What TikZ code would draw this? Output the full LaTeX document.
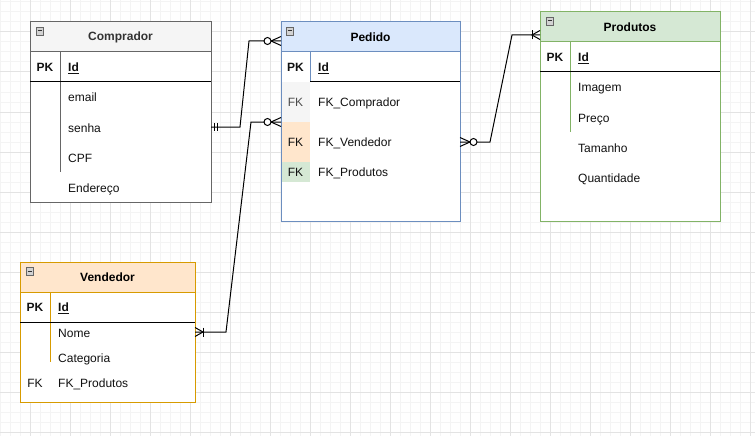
\documentclass[tikz,border=0pt]{standalone}
\usepackage{fontspec}
\setmainfont{Liberation Sans}
\definecolor{grayF}{HTML}{F5F5F5}\definecolor{grayS}{HTML}{666666}
\definecolor{blueF}{HTML}{DAE8FC}\definecolor{blueS}{HTML}{6C8EBF}
\definecolor{greenF}{HTML}{D5E8D4}\definecolor{greenS}{HTML}{82B366}
\definecolor{orangeF}{HTML}{FFE6CC}\definecolor{orangeS}{HTML}{D79B00}
\definecolor{gridmin}{HTML}{F4F4F4}\definecolor{gridmaj}{HTML}{E3E3E3}
\definecolor{txt}{HTML}{111111}
\tikzset{
  box/.style={rectangle, inner sep=0pt, outer sep=0pt, line width=1pt, anchor=north west},
  title/.style={box, font=\fontsize{12}{14}\selectfont\bfseries},
  fld/.style={anchor=base west, inner sep=0pt, font=\fontsize{12}{14}\selectfont, text=txt},
  pk/.style={anchor=base, inner sep=0pt, font=\fontsize{12}{14}\selectfont\bfseries, text=txt},
  fk/.style={anchor=base, inner sep=0pt, font=\fontsize{12}{14}\selectfont, text=txt},
  conn/.style={line width=1pt, black},
  icon/.pic={\draw[line width=0.6pt, draw=gray!80!black, fill=gray!35] (0,0) rectangle (7,8);
             \draw[line width=1pt, black!80] (1.5,4) -- (5.5,4);},
  zmany/.pic={\draw[line width=1pt] (0,-4.5) -- (10,0) -- (0,4.5);
              \draw[line width=1pt, fill=white] (13.5,0) circle (3.5pt);},
  omany/.pic={\draw[line width=1pt] (0,-4.5) -- (8,0) -- (0,4.5);
              \draw[line width=1pt] (8,-4.5) -- (8,4.5);},
  mone/.pic={\draw[line width=1pt] (3.5,-4) -- (3.5,4);
             \draw[line width=1pt] (6.5,-4) -- (6.5,4);}
}
\begin{document}
\begin{tikzpicture}[x=1pt,y=-1pt]
\useasboundingbox (0,0) rectangle (755,436);
\fill[white] (0,0) rectangle (755,436);
% grid
\foreach \x in {0,10,...,750} \draw[gridmin, line width=1pt] (\x,0) -- (\x,436);
\foreach \y in {2,12,...,432} \draw[gridmin, line width=1pt] (0,\y) -- (755,\y);
\foreach \x in {30,70,...,750} \draw[gridmaj, line width=1pt] (\x,0) -- (\x,436);
\foreach \y in {32,72,...,432} \draw[gridmaj, line width=1pt] (0,\y) -- (755,\y);

% ---------- Comprador ----------
\node[box, draw=grayS, fill=white, minimum width=181pt, minimum height=150pt] (comp) at (30,52) {};
\node[title, draw=grayS, fill=grayF, minimum width=181pt, minimum height=30pt, text=black!80] (compH) at (30,22) {Comprador};
\pic at (36,27) {icon};
\draw[grayS, line width=1pt] (60,52) -- (60,172);
\draw[black, line width=1pt] (30,82) -- (211,82);
\node[pk] (compPK) at (45,71.5) {PK};
\node[fld, font=\fontsize{12}{14}\selectfont\bfseries] (compId) at (68,71.5) {\underline{Id}};
\node[fld] (c1) at (68,102) {email};
\node[fld] (c2) at (68,132) {senha};
\node[fld] (c3) at (68,162) {CPF};
\node[fld] (c4) at (68,192) {Endereço};

% ---------- Pedido ----------
\node[box, draw=blueS, fill=white, minimum width=179pt, minimum height=169pt] (ped) at (281,52) {};
\node[title, draw=blueS, fill=blueF, minimum width=179pt, minimum height=30pt] (pedH) at (281,22) {Pedido};
\pic at (286,27) {icon};
\fill[grayF] (281.5,82.5) rectangle (310,122);
\fill[orangeF] (281.5,122) rectangle (310,162);
\fill[greenF] (281.5,162) rectangle (310,182);
\draw[blueS, line width=1pt] (310,52) -- (310,82);
\draw[black, line width=1pt] (310,82) -- (460,82);
\node[pk] (pedPK) at (295.5,71.5) {PK};
\node[fld, font=\fontsize{12}{14}\selectfont\bfseries] (pedId) at (318,71.5) {\underline{Id}};
\node[fk, text=black!70] (pf1) at (295.5,106.5) {FK};
\node[fk] (pf2) at (295.5,146.5) {FK};
\node[fk] (pf3) at (295.5,176.5) {FK};
\node[fld] (p1) at (318,106.5) {FK\_Comprador};
\node[fld] (p2) at (318,146.5) {FK\_Vendedor};
\node[fld] (p3) at (318,176.5) {FK\_Produtos};

% ---------- Produtos ----------
\node[box, draw=greenS, fill=white, minimum width=180pt, minimum height=179pt] (prod) at (540,42) {};
\node[title, draw=greenS, fill=greenF, minimum width=180pt, minimum height=30pt] (prodH) at (540,12) {Produtos};
\pic at (546,17) {icon};
\draw[greenS, line width=1pt] (570,42) -- (570,132);
\draw[black, line width=1pt] (540,72) -- (720,72);
\node[pk] (prodPK) at (555,61.5) {PK};
\node[fld, font=\fontsize{12}{14}\selectfont\bfseries] (prodId) at (578,61.5) {\underline{Id}};
\node[fld] (r1) at (578,92) {Imagem};
\node[fld] (r2) at (578,122) {Preço};
\node[fld] (r3) at (578,152) {Tamanho};
\node[fld] (r4) at (578,182) {Quantidade};

% ---------- Vendedor ----------
\node[box, draw=orangeS, fill=white, minimum width=175pt, minimum height=110pt] (vend) at (20,292) {};
\node[title, draw=orangeS, fill=orangeF, minimum width=175pt, minimum height=30pt] (vendH) at (20,262) {Vendedor};
\pic at (26,267) {icon};
\draw[orangeS, line width=1pt] (50,292) -- (50,362);
\draw[black, line width=1pt] (20,322) -- (195,322);
\node[pk] (vendPK) at (35,311.5) {PK};
\node[fld, font=\fontsize{12}{14}\selectfont\bfseries] (vendId) at (58,311.5) {\underline{Id}};
\node[fld] (v1) at (58,337) {Nome};
\node[fld] (v2) at (58,362) {Categoria};
\node[fk] (vf) at (35,387) {FK};
\node[fld] (v3) at (58,387) {FK\_Produtos};

% ---------- connectors ----------
\coordinate (compR) at (211,127);
\coordinate (pedL1) at (281,41);
\coordinate (vendR) at (195,332);
\coordinate (pedL2) at (281,122);
\coordinate (pedR) at (460,142);
\coordinate (prodL) at (540,35);

\draw[conn] (compR) -- (240,127) -- (249,41) -- (pedL1);
\draw[conn] (vendR) -- (226,332) -- (251,122) -- (pedL2);
\draw[conn] (pedR) -- (490,142) -- (512,35) -- (prodL);

\pic at (compR) {mone};
\pic[rotate=180] at (pedL1) {zmany};
\pic at (vendR) {omany};
\pic[rotate=180] at (pedL2) {zmany};
\pic at (pedR) {zmany};
\pic[rotate=180] at (prodL) {omany};
\end{tikzpicture}
\end{document}
